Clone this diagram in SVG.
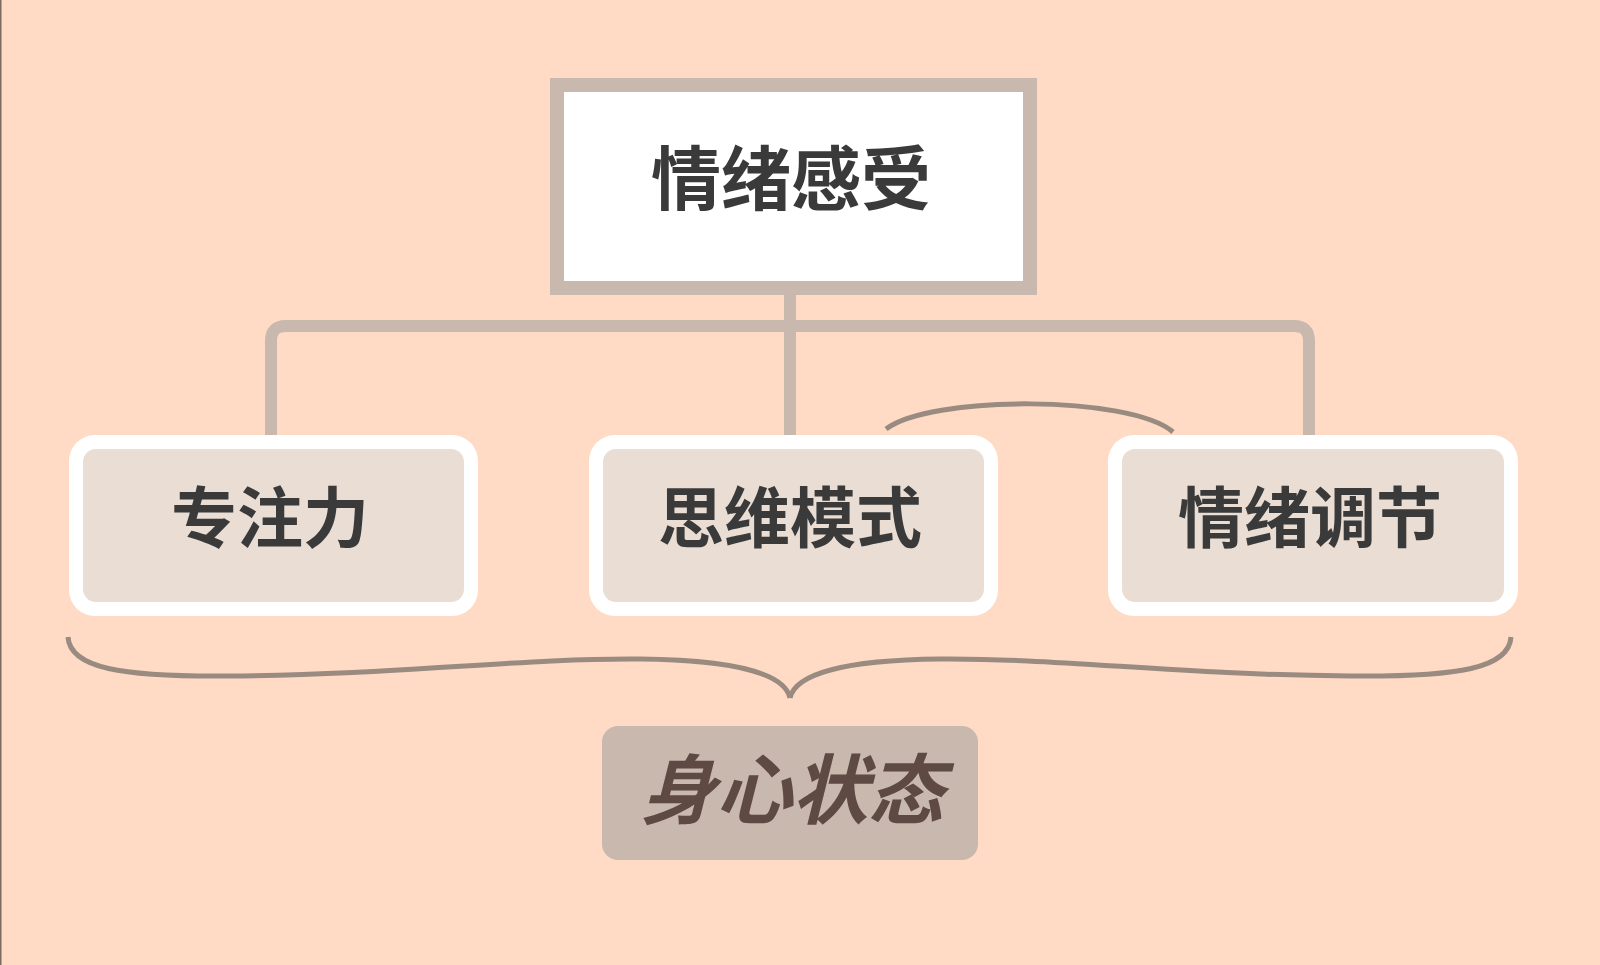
<svg xmlns="http://www.w3.org/2000/svg" width="1600" height="965" viewBox="0 0 1600 965">
<style>
.lbl{font-family:"Noto Sans CJK SC","Noto Sans",sans-serif;font-weight:bold;fill:#3a3a3a;text-anchor:middle}
.child rect.outer{fill:#ffffff}
.child rect.inner{fill:#e9ddd4}
.conn{fill:none;stroke:#c8b8ae;stroke-width:12;stroke-linejoin:round}
.thin{fill:none;stroke:#9a8b80;stroke-width:5;stroke-linecap:butt}
</style>
<rect x="0" y="0" width="1600" height="965" fill="#ffdac5"/>
<rect x="0" y="0" width="1.5" height="965" fill="#7a6a60"/>
<g id="connectors">
<path class="conn" d="M790 295 V435"/>
<path class="conn" d="M271 435 V341 Q271 326 286 326 H1294 Q1309 326 1309 341 V435"/>
<path class="thin" d="M886 429 C930 395 1130 395 1173 432"/>
<path class="thin" d="M68 637 C70 668 120 677 230 676 C400 675 520 658 640 659 C740 660 785 675 790 698"/>
<path class="thin" d="M1511 637 C1509 668 1460 677 1350 676 C1180 675 1060 658 940 659 C840 660 795 675 790 698"/>
</g>
<g id="node-top">
<rect x="557" y="85" width="473" height="203" fill="#ffffff" stroke="#c8b8ae" stroke-width="14"/>
<text class="lbl" x="791" y="205" font-size="70">情绪感受</text>
</g>
<g id="node-focus" class="child">
<rect class="outer" x="69" y="435" width="409" height="181" rx="26"/>
<rect class="inner" x="83" y="449" width="381" height="153" rx="13"/>
<text class="lbl" x="270" y="542" font-size="66">专注力</text>
</g>
<g id="node-thinking" class="child">
<rect class="outer" x="589" y="435" width="409" height="181" rx="26"/>
<rect class="inner" x="603" y="449" width="381" height="153" rx="13"/>
<text class="lbl" x="790" y="542" font-size="66">思维模式</text>
</g>
<g id="node-regulation" class="child">
<rect class="outer" x="1108" y="435" width="410" height="181" rx="26"/>
<rect class="inner" x="1122" y="449" width="382" height="153" rx="13"/>
<text class="lbl" x="1310" y="542" font-size="66">情绪调节</text>
</g>
<g id="node-state">
<rect x="602" y="726" width="376" height="134" rx="16" fill="#c8b8ae"/>
<text class="lbl" x="792" y="818" font-size="76" font-style="italic" style="fill:#5e4a42">身心状态</text>
</g>
</svg>
